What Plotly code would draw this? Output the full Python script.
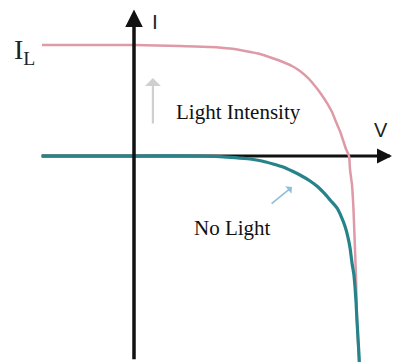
import plotly.graph_objects as go

# I-V characteristic of a solar cell (normalised: I_L = 1, V_oc = 1)
v_light = [-0.428, 0.0, 0.214, 0.353, 0.447, 0.516, 0.586, 0.642, 0.693, 0.735,
           0.772, 0.809, 0.842, 0.870, 0.898, 0.921, 0.940, 0.958, 0.972, 0.986,
           1.0, 1.005, 1.014, 1.021, 1.028, 1.033, 1.037, 1.047]
i_light = [1.0, 1.0, 0.991, 0.982, 0.968, 0.946, 0.919, 0.883, 0.847, 0.811,
           0.766, 0.703, 0.631, 0.559, 0.477, 0.396, 0.306, 0.225, 0.144, 0.063,
           0.0, -0.126, -0.261, -0.486, -0.847, -1.117, -1.477, -1.856]

v_dark = [-0.428, 0.0, 0.307, 0.400, 0.470, 0.540, 0.595, 0.647, 0.693, 0.735,
          0.772, 0.819, 0.856, 0.888, 0.916, 0.944, 0.963, 0.981, 0.995, 1.005,
          1.014, 1.023, 1.028, 1.033, 1.037, 1.042, 1.047, 1.048]
i_dark = [0.0, 0.0, 0.0, -0.005, -0.014, -0.027, -0.045, -0.072, -0.099, -0.135,
          -0.171, -0.225, -0.279, -0.342, -0.405, -0.468, -0.541, -0.631, -0.730, -0.829,
          -0.964, -1.072, -1.180, -1.324, -1.477, -1.640, -1.811, -1.856]

LIGHT_COLOR = "#de9aa7"
DARK_COLOR = "#27838a"
SERIF = "Liberation Serif"
SANS = "Liberation Sans"

fig = go.Figure()

# horizontal (V) axis drawn beneath the curves
fig.add_shape(type="line", x0=-0.43, x1=1.19, y0=0, y1=0,
              line=dict(color="#111111", width=3), layer="below")

fig.add_trace(go.Scatter(x=v_light, y=i_light, mode="lines",
                         line=dict(color=LIGHT_COLOR, width=2.5, shape="spline", smoothing=0.5),
                         hoverinfo="skip", showlegend=False))
fig.add_trace(go.Scatter(x=v_dark, y=i_dark, mode="lines",
                         line=dict(color=DARK_COLOR, width=3.2, shape="spline", smoothing=0.5),
                         hoverinfo="skip", showlegend=False))

# vertical (I) axis drawn over the curves
fig.add_shape(type="line", x0=0, x1=0, y0=-1.83, y1=1.25,
              line=dict(color="#111111", width=3.5), layer="above")

# axis arrowheads
fig.add_annotation(x=1.2, y=0, ax=1.13, ay=0, xref="x", yref="y", axref="x", ayref="y",
                   showarrow=True, arrowhead=2, arrowsize=1, arrowwidth=3, arrowcolor="#111111", text="")
fig.add_annotation(x=0, y=1.32, ax=0, ay=1.18, xref="x", yref="y", axref="x", ayref="y",
                   showarrow=True, arrowhead=2, arrowsize=1, arrowwidth=3.5, arrowcolor="#111111", text="")

# "light intensity" and "no light" pointers
fig.add_annotation(x=0.088, y=0.703, ax=0.088, ay=0.279, xref="x", yref="y", axref="x", ayref="y",
                   showarrow=True, arrowhead=1, arrowsize=1.2, arrowwidth=2.2, arrowcolor="#cfcfcf", text="")
fig.add_annotation(x=0.735, y=-0.279, ax=0.633, ay=-0.441, xref="x", yref="y", axref="x", ayref="y",
                   showarrow=True, arrowhead=1, arrowsize=1, arrowwidth=1.6, arrowcolor="#93bcd9", text="")

# labels
fig.add_annotation(x=0.098, y=1.21, text="I", showarrow=False,
                   font=dict(family=SANS, size=21, color="#222222"))
fig.add_annotation(x=1.15, y=0.234, text="V", showarrow=False,
                   font=dict(family=SANS, size=20, color="#222222"))
fig.add_annotation(x=-0.51, y=0.94, text="I<sub>L</sub>", showarrow=False,
                   font=dict(family=SERIF, size=28, color="#222222"))
fig.add_annotation(x=0.484, y=0.396, text="Light Intensity", showarrow=False,
                   font=dict(family=SERIF, size=21, color="#111111"))
fig.add_annotation(x=0.456, y=-0.649, text="No Light", showarrow=False,
                   font=dict(family=SERIF, size=21, color="#111111"))

fig.update_layout(
    width=393, height=362,
    margin=dict(l=0, r=0, t=0, b=0),
    paper_bgcolor="white", plot_bgcolor="white",
    xaxis=dict(range=[-0.6233, 1.2047], visible=False, fixedrange=True),
    yaxis=dict(range=[-1.8559, 1.4054], visible=False, fixedrange=True),
    showlegend=False,
)

fig.write_html("out.html")
